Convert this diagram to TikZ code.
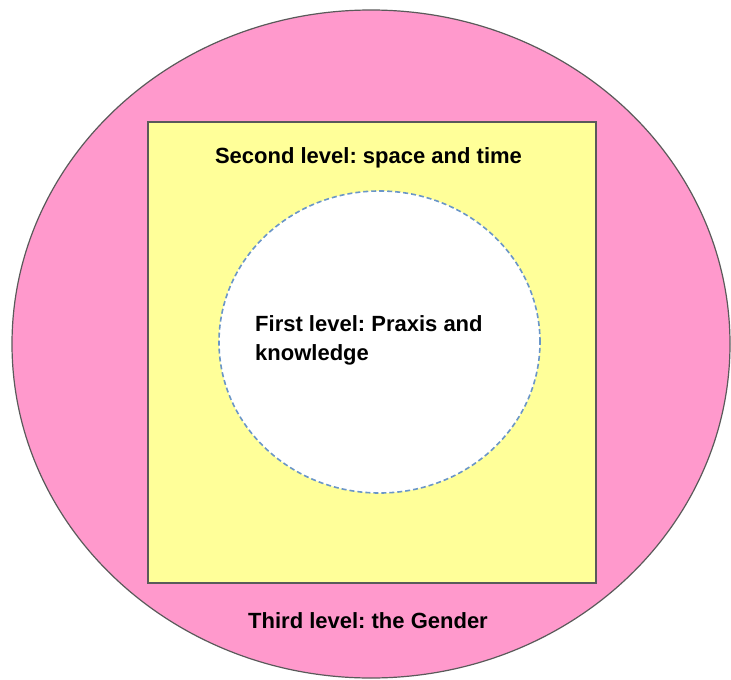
\documentclass[tikz,border=0pt]{standalone}
\usepackage{fontspec}
\setmainfont{Liberation Sans}
\usetikzlibrary{shapes.geometric}
\frenchspacing
\definecolor{pinkfill}{HTML}{FF99CC}
\definecolor{yellowfill}{HTML}{FFFF99}
\definecolor{dashblue}{HTML}{6A96C8}
\definecolor{edgegray}{HTML}{5A5A5A}
\tikzset{
  lbl/.style={font=\fontsize{22}{29}\selectfont\bfseries, text=black, inner sep=0pt},
  outerlevel/.style={ellipse, draw=edgegray, line width=1.2pt, fill=pinkfill, inner sep=0pt},
  midlevel/.style={rectangle, draw=edgegray, line width=1.2pt, fill=yellowfill, inner sep=0pt},
  innerlevel/.style={ellipse, draw=dashblue, line width=1.6pt, dash pattern=on 5pt off 3pt, fill=white, inner sep=0pt}
}
\begin{document}
\begin{tikzpicture}[x=1pt,y=-1pt]
\useasboundingbox (0,0) rectangle (731,680);
\node[outerlevel, minimum width=718pt, minimum height=668pt] (third) at (371,344) {};
\node[midlevel, minimum width=448pt, minimum height=461pt] (second) at (372,352.5) {};
\node[innerlevel, minimum width=321pt, minimum height=302pt] (first) at (379.5,342) {};
\node[lbl, anchor=base] (secondlbl) at (368.5,163) {Second level: space and time};
\node[lbl, anchor=base] (thirdlbl) at (368,628) {Third level: the Gender};
\node[lbl, anchor=base west, align=left] (firstlbl1) at (255,331) {First level: Praxis and};
\node[lbl, anchor=base west, align=left] (firstlbl2) at (255,360) {knowledge};
\end{tikzpicture}
\end{document}
